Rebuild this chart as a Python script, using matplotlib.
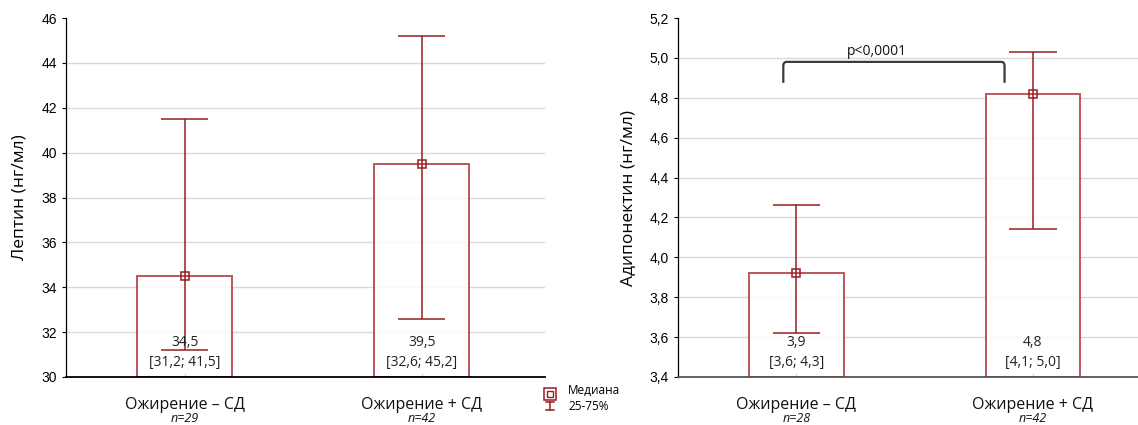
import matplotlib
matplotlib.use("Agg")
import matplotlib.pyplot as plt
from matplotlib.path import Path
from matplotlib.patches import PathPatch
from matplotlib.ticker import FuncFormatter, MultipleLocator

# group labels and sample sizes
groups = ["Ожирение – СД", "Ожирение + СД"]
n_leptin = [29, 42]
n_adipo = [28, 42]

# leptin: median, 25th and 75th percentile (ng/ml)
leptin_med = [34.5, 39.5]
leptin_q1 = [31.2, 32.6]
leptin_q3 = [41.5, 45.2]

# adiponectin: median, 25th and 75th percentile (ng/ml)
adipo_med = [3.92, 4.82]
adipo_q1 = [3.62, 4.14]
adipo_q3 = [4.26, 5.03]

p_text = "p<0,0001"

BAR_EDGE = "#b0393c"
WHISK = "#991c1f"
TEXT_FONT = ["Open Sans", "DejaVu Sans"]
TICK_FONT = ["Liberation Sans", "DejaVu Sans"]


def comma(v, digits=1):
    return f"{v:.{digits}f}".replace(".", ",")


def draw_panel(ax, med, q1, q3, ns, ylim, step, ylabel, tick_digits):
    x = list(range(len(med)))
    ax.set_ylim(*ylim)
    ax.set_xlim(-0.5, 1.52)
    ax.yaxis.set_major_locator(MultipleLocator(step))
    ax.yaxis.set_major_formatter(FuncFormatter(lambda v, _: comma(v, tick_digits)))

    # light horizontal grid, skipping the limits
    t = ylim[0] + step
    while t < ylim[1] - step / 2:
        ax.axhline(t, color="#d9d9d9", lw=1, zorder=0)
        t += step

    ax.bar(x, [m - ylim[0] for m in med], bottom=ylim[0], width=0.4,
           facecolor="white", edgecolor=BAR_EDGE, lw=1.4, zorder=2, alpha=0.85)
    ax.vlines(x, q1, q3, color=WHISK, lw=1.1, zorder=3)
    ax.hlines(q1, [i - 0.1 for i in x], [i + 0.1 for i in x], color=WHISK, lw=1.1, zorder=3)
    ax.hlines(q3, [i - 0.1 for i in x], [i + 0.1 for i in x], color=WHISK, lw=1.1, zorder=3)
    ax.plot(x, med, ls="none", marker="s", ms=6, mfc="none", mec=WHISK, mew=1.1, zorder=4)

    span = ylim[1] - ylim[0]
    for i in x:
        ax.text(i, ylim[0] + span * 0.095, comma(med[i]), ha="center", va="center",
                fontsize=10, family=TEXT_FONT, color="#222222", zorder=5)
        ax.text(i, ylim[0] + span * 0.04, f"[{comma(q1[i])}; {comma(q3[i])}]",
                ha="center", va="center", fontsize=10, family=TEXT_FONT,
                color="#222222", zorder=5)

    ax.set_xticks(x)
    ax.set_xticklabels([])
    for i in x:
        ax.annotate(groups[i], (i, 0), xycoords=("data", "axes fraction"),
                    xytext=(0, -20), textcoords="offset points", ha="center",
                    va="center", fontsize=11.5, family=TEXT_FONT, color="#111111")
        ax.annotate(f"n={ns[i]}", (i, 0), xycoords=("data", "axes fraction"),
                    xytext=(0, -30), textcoords="offset points", ha="center",
                    va="center", fontsize=9, style="italic", family=TEXT_FONT,
                    color="#111111")

    ax.tick_params(axis="x", direction="in", length=3, width=0.8)
    ax.tick_params(axis="y", direction="out", length=3, width=0.8, labelsize=10)
    for lab in ax.get_yticklabels():
        lab.set_family(TICK_FONT)
    ax.set_ylabel(ylabel, fontsize=12.5, family=TEXT_FONT, labelpad=10)
    for s in ("top", "right"):
        ax.spines[s].set_visible(False)
    ax.spines["left"].set_linewidth(0.9)
    ax.spines["bottom"].set_linewidth(1.3)
    ax.spines["bottom"].set_zorder(6)


fig = plt.figure(figsize=(11.38, 4.25), dpi=100)
W, H = 1138, 425

ax1 = fig.add_axes([66 / W, 48 / H, 479 / W, 359 / H])
draw_panel(ax1, leptin_med, leptin_q1, leptin_q3, n_leptin, (30, 46), 2,
           "Лептин (нг/мл)", 0)

ax2 = fig.add_axes([678 / W, 48 / H, 478 / W, 359 / H])
draw_panel(ax2, adipo_med, adipo_q1, adipo_q3, n_adipo, (3.4, 5.2), 0.2,
           "Адипонектин (нг/мл)", 1)
ax2.spines["bottom"].set_color("#555555")

# significance bracket between the two adiponectin groups
x0, x1, yb, yt = -0.055, 0.88, 4.875, 4.98
verts = [(x0, yb), (x0, yt - 0.02), (x0, yt), (x0 + 0.015, yt),
         (x1 - 0.015, yt), (x1, yt), (x1, yt - 0.02), (x1, yb)]
codes = [Path.MOVETO, Path.LINETO, Path.CURVE3, Path.CURVE3,
         Path.LINETO, Path.CURVE3, Path.CURVE3, Path.LINETO]
ax2.add_patch(PathPatch(Path(verts, codes), fill=False, edgecolor="#3a3a3a",
                        lw=1.6, zorder=5, clip_on=False))
ax2.text(0.34, 5.03, p_text, ha="center", va="center",
         fontsize=10, family=TEXT_FONT, color="#111111")

# legend between the panels
lg = fig.add_axes([540 / W, 0, 100 / W, 45 / H])
lg.set_xlim(540, 640)
lg.set_ylim(425, 380)
lg.axis("off")
lg.plot([550], [394], marker="s", ms=8, mfc="none", mec=WHISK, mew=1.1, clip_on=False)
lg.plot([550], [394], marker="s", ms=4, mfc="none", mec=WHISK, mew=1.0, clip_on=False)
lg.plot([550, 550], [402, 410], color=WHISK, lw=1.1, clip_on=False)
lg.plot([546, 554], [402, 402], color=WHISK, lw=1.1, clip_on=False)
lg.plot([546, 554], [410, 410], color=WHISK, lw=1.1, clip_on=False)
lg.text(568, 390, "Медиана", fontsize=8.5, family=TEXT_FONT, va="center", ha="left")
lg.text(568, 406, "25-75%", fontsize=8.5, family=TEXT_FONT, va="center", ha="left")

fig.savefig("out.png", dpi=100)
